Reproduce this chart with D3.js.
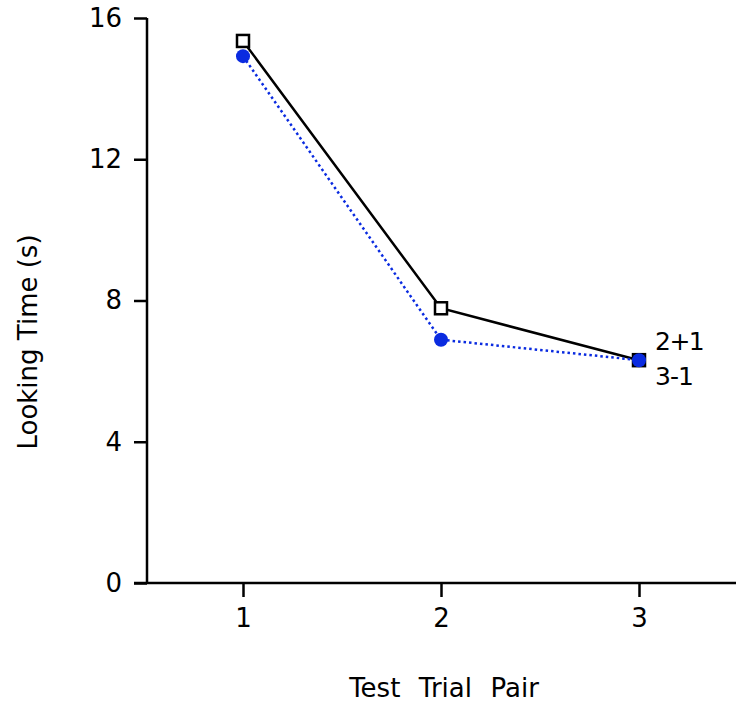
<!DOCTYPE html>
<html>
<head>
<meta charset="utf-8">
<script src="https://cdn.jsdelivr.net/npm/d3@7"></script>
<style>
  body { margin: 0; background: #fff; }
  svg { display: block; font-family: "DejaVu Sans", sans-serif; }
  .axis path, .axis line { stroke: #000; stroke-width: 2.5px; }
  .axis text { font-size: 26px !important; fill: #000; }
</style>
</head>
<body>
<svg class="chart"></svg>
<script>
// Data
var trials = [1, 2, 3];
var addSeries = [15.35, 7.78, 6.31];   // 2+1, open squares, solid black
var subSeries = [14.92, 6.89, 6.31];   // 3-1, blue circles, dotted
var yTicks = [0, 4, 8, 12, 16];
var seriesNames = ['2+1', '3-1'];

var width = 736;
var height = 706;

var svg = d3.select('.chart')
  .attr('width', width)
  .attr('height', height);

var x = d3.scaleLinear().domain([0.5, 3.5]).range([144, 738]);
var y = d3.scaleLinear().domain([0, 16]).range([583, 18]);

// Y axis
var yAxis = svg.append('g')
  .attr('class', 'axis')
  .attr('transform', 'translate(147,0)')
  .call(d3.axisLeft(y).tickValues(yTicks).tickSize(13).tickPadding(12).tickSizeOuter(0));
yAxis.attr('font-size', 26).attr('font-family', 'DejaVu Sans, sans-serif');
yAxis.select('.domain').attr('d', 'M0,' + y(16) + 'V' + y(0));

// X axis
var xAxis = svg.append('g')
  .attr('class', 'axis')
  .attr('transform', 'translate(0,' + y(0) + ')')
  .call(d3.axisBottom(x).tickValues(trials).tickFormat(d3.format('d')).tickSize(14).tickPadding(12).tickSizeOuter(0));
xAxis.attr('font-size', 26).attr('font-family', 'DejaVu Sans, sans-serif');
xAxis.select('.domain').attr('d', 'M134,0H' + width);

// Axis titles
svg.append('text')
  .attr('x', 444)
  .attr('y', 697)
  .attr('text-anchor', 'middle')
  .style('font-size', '26px')
  .style('white-space', 'pre')
  .style('word-spacing', '1px')
  .text('Test  Trial  Pair');

svg.append('text')
  .attr('transform', 'translate(37,342) rotate(-90)')
  .attr('text-anchor', 'middle')
  .style('font-size', '26px')
  .text('Looking Time (s)');

// Lines
var line = d3.line()
  .x(function (d, i) { return x(trials[i]); })
  .y(function (d) { return y(d); });

svg.append('path')
  .datum(addSeries)
  .attr('d', line)
  .attr('fill', 'none')
  .attr('stroke', '#000')
  .attr('stroke-width', 2.5);

svg.append('path')
  .datum(subSeries)
  .attr('d', line)
  .attr('fill', 'none')
  .attr('stroke', '#0a2be0')
  .attr('stroke-width', 2.5)
  .attr('stroke-dasharray', '2.5,3');

// Markers
svg.selectAll('.sq')
  .data(addSeries)
  .enter()
  .append('rect')
  .attr('class', 'sq')
  .attr('x', function (d, i) { return x(trials[i]) - 6; })
  .attr('y', function (d) { return y(d) - 6; })
  .attr('width', 12)
  .attr('height', 12)
  .attr('fill', '#fff')
  .attr('stroke', '#000')
  .attr('stroke-width', 2.5);

svg.selectAll('.dot')
  .data(subSeries)
  .enter()
  .append('circle')
  .attr('class', 'dot')
  .attr('cx', function (d, i) { return x(trials[i]); })
  .attr('cy', function (d) { return y(d); })
  .attr('r', 7)
  .attr('fill', '#0a2be0');

// Series labels at the last point
var lastX = x(trials[trials.length - 1]);
var lastY = y(addSeries[addSeries.length - 1]);
svg.append('text')
  .attr('x', lastX + 16)
  .attr('y', lastY - 10)
  .style('font-size', '25px')
  .style('letter-spacing', '-1.5px')
  .text(seriesNames[0]);
svg.append('text')
  .attr('x', lastX + 16)
  .attr('y', lastY + 25)
  .style('font-size', '25px')
  .style('letter-spacing', '-1px')
  .text(seriesNames[1]);
</script>
</body>
</html>
